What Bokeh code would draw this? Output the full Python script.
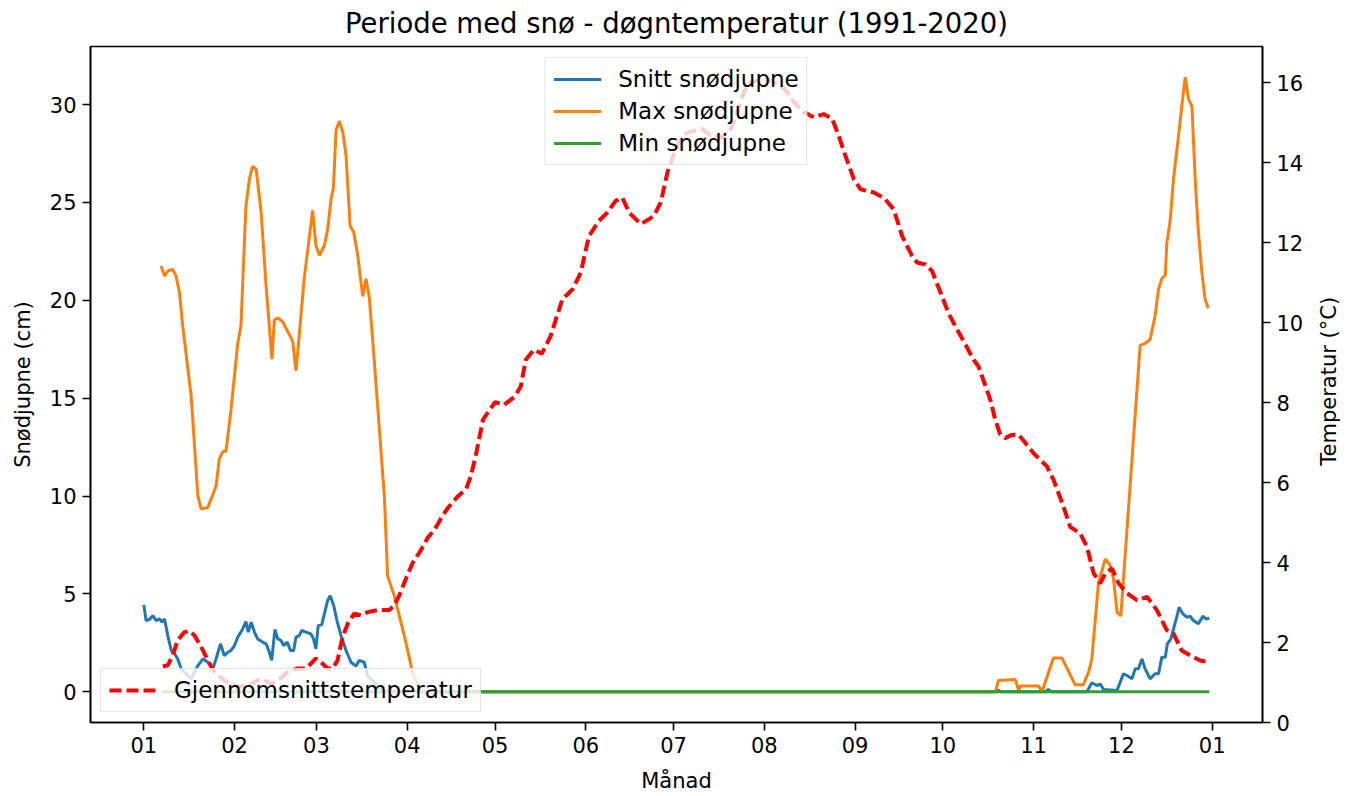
import math
from bokeh.plotting import figure
from bokeh.models import Range1d, LinearAxis, FixedTicker, Legend, LegendItem, Label
from bokeh.layouts import column, row
from bokeh.embed import file_html
from bokeh.resources import INLINE

# ---------------- data (day of year, 0 = 1 January) ----------------
month_start_days = [0, 31, 59, 90, 120, 151, 181, 212, 243, 273, 304, 334, 365]
month_labels = ["01", "02", "03", "04", "05", "06", "07", "08", "09", "10", "11", "12", "01"]

snow_ticks = [0, 5, 10, 15, 20, 25, 30]
temp_ticks = [0, 2, 4, 6, 8, 10, 12, 14, 16]

# Snitt snødjupne (cm)
mean_days = [0.0, 0.8, 1.9, 3.1, 4.2, 5.4, 6.2, 7.1, 8.2, 9.4, 10.5, 11.6, 12.8, 13.9, 16.2,
             18.5, 20.2, 21.9, 23.6, 24.7, 26.2, 27.5, 28.7, 29.8, 31.0, 32.1, 33.8, 34.9,
             35.7, 36.7, 37.8, 38.9, 40.6, 41.8, 42.9, 43.7, 44.8, 45.8, 46.9, 47.8, 49.0,
             50.1, 51.2, 52.0, 53.1, 54.0, 55.4, 57.1, 58.0, 58.8, 59.6, 60.8, 61.7, 62.8,
             63.7, 64.9, 66.0, 67.4, 69.1, 70.8, 72.5, 73.6, 75.3, 76.5, 78.7, 81.0, 82.0,
             291.0, 292.0, 293.0, 308.0, 309.0, 310.0, 322.2, 323.9, 325.6, 326.8, 327.9,
             332.5, 334.7, 335.9, 337.6, 338.7, 339.8, 341.0, 342.1, 343.8, 345.5, 346.7,
             347.8, 349.0, 349.7, 350.9, 351.8, 352.9, 353.7, 355.0, 356.3, 357.5, 358.6,
             360.3, 361.8, 362.9, 364.0]
mean_snow = [4.44, 3.64, 3.69, 3.89, 3.64, 3.72, 3.56, 3.72, 2.87, 2.11, 1.94, 1.68, 1.17, 1.00, 0.66,
             1.34, 1.68, 1.51, 1.17, 1.68, 2.45, 1.85, 2.02, 2.11, 2.36, 2.79, 3.21, 3.59,
             3.05, 3.56, 3.05, 2.70, 2.54, 2.45, 2.02, 1.60, 3.18, 2.70, 2.62, 2.36, 2.54,
             2.11, 2.11, 2.79, 2.87, 3.13, 3.05, 2.96, 2.70, 2.19, 3.38, 3.42, 3.98, 4.66,
             4.91, 4.40, 3.64, 2.87, 2.11, 1.51, 1.31, 1.60, 1.51, 0.80, 0.49, 0.15, 0.0,
             0.0, 0.07, 0.0, 0.0, 0.12, 0.0, 0.0, 0.46, 0.32, 0.39, 0.12,
             0.07, 0.92, 0.83, 0.66, 1.17, 1.17, 1.68, 1.17, 0.66, 0.92, 0.92,
             1.77, 1.77, 2.45, 2.70, 3.21, 3.81, 4.32, 3.98, 3.81, 3.86, 3.64,
             3.47, 3.86, 3.72, 3.76]

# Max snødjupne (cm)
max_days = [5.9, 7.1, 8.2, 9.9, 11.0, 12.2, 13.3, 16.2, 18.5, 19.6, 21.9, 24.7, 25.8, 27.0, 28.1,
            29.8, 32.1, 33.2, 34.9, 36.1, 37.2, 38.4, 40.1, 41.8, 43.8, 44.6, 45.8, 47.5, 50.9,
            52.0, 53.1, 54.8, 57.7, 58.8, 60.0, 61.7, 62.8, 64.0, 64.8, 65.7, 66.8, 68.0, 69.1,
            70.5, 71.7, 73.1, 74.8, 75.9, 77.0, 78.2, 79.9, 82.2, 83.3, 85.6, 89.0, 91.8, 94.1,
            95.0, 291.0, 292.0, 297.7, 298.9, 299.5, 305.7, 306.9, 309.1, 310.8, 313.7, 318.2,
            321.0, 322.8, 323.9, 325.0, 326.2, 328.5, 330.2, 331.3, 332.5, 333.8, 340.4, 342.1,
            343.8, 345.5, 346.7, 347.8, 349.0, 349.5, 350.6, 351.8, 353.5, 355.0, 355.8, 356.9,
            358.1, 359.2, 360.3, 361.5, 362.6, 363.7]
max_snow = [21.75, 21.24, 21.5, 21.58, 21.24, 20.4, 18.7, 15.1, 10.0, 9.34, 9.42, 10.5, 11.9, 12.26, 12.3,
            14.4, 17.8, 18.7, 24.8, 26.2, 26.85, 26.7, 24.5, 20.7, 17.0, 19.0, 19.1, 18.9, 17.9,
            16.4, 18.2, 21.1, 24.6, 22.8, 22.3, 22.8, 23.6, 25.2, 25.75, 28.7, 29.15, 28.6, 27.4,
            23.8, 23.5, 22.3, 20.2, 21.1, 20.2, 18.0, 14.6, 10.0, 5.93, 4.9, 2.87, 1.0, 0.15,
            0.0, 0.0, 0.58, 0.63, 0.07, 0.29, 0.29, 0.0, 1.0, 1.72, 1.72, 0.36,
            0.36, 1.0, 1.68, 3.56, 5.6, 6.79, 6.44, 5.77, 4.07, 3.88, 17.7, 17.8,
            18.0, 19.2, 20.6, 21.1, 21.3, 22.9, 24.0, 26.2, 28.4, 30.4, 31.4, 30.3,
            29.9, 26.2, 23.5, 21.4, 20.05, 19.6]

# Min snødjupne (cm)
min_days = [6.0, 364.0]
min_snow = [0.0, 0.0]

# Gjennomsnittstemperatur (°C)
temp_days = [6.5, 8.2, 9.9, 11.6, 13.9, 15.6, 17.3, 19.6, 21.9, 24.1, 27.5, 32.1, 36.7, 40.1, 43.5,
             45.8, 49.2, 52.6, 55.4, 57.1, 58.8, 60.5, 62.8, 64.5, 66.2, 67.9, 69.7, 71.9, 74.2,
             76.5, 79.9, 83.9, 85.6, 87.3, 89.6, 91.8, 94.7, 97.0, 99.2, 102.4, 104.3, 107.0,
             110.2, 111.7, 113.5, 115.9, 120.0, 123.1, 126.8, 128.8, 130.5, 133.3, 136.0, 139.0,
             143.0, 146.5, 149.3, 152.1, 155.5, 158.4, 161.2, 163.5, 165.8, 169.8, 174.3, 176.6,
             178.9, 181.7, 184.5, 187.9, 190.8, 193.7, 197.6, 200.5, 202.8, 205.0, 207.3, 210.7,
             214.1, 217.6, 219.8, 222.1, 225.5, 228.9, 232.3, 235.2, 237.4, 239.7, 242.6, 244.9,
             249.4, 252.8, 256.2, 259.1, 262.5, 264.2, 267.0, 269.3, 272.2, 275.0, 277.9, 280.7,
             283.5, 285.2, 286.9, 289.2, 290.9, 292.6, 294.3, 296.6, 298.8, 301.5, 304.0, 308.6,
             310.8, 314.2, 316.5, 319.9, 322.2, 324.5, 326.8, 328.5, 330.8, 333.0, 335.9, 339.3,
             342.8, 346.1, 349.5, 351.8, 354.6, 357.5, 360.9, 363.7]
temp_vals = [1.40, 1.43, 1.68, 2.06, 2.26, 2.29, 2.18, 1.89, 1.55, 1.26, 1.05, 0.88, 0.97, 1.10, 0.97,
             1.05, 1.26, 1.35, 1.35, 1.47, 1.60, 1.51, 1.35, 1.35, 1.55, 2.14, 2.47, 2.72, 2.68,
             2.76, 2.81, 2.81, 2.93, 3.18, 3.60, 3.98, 4.31, 4.62, 4.80, 5.21, 5.40, 5.63,
             5.85, 6.15, 6.70, 7.57, 8.01, 7.94, 8.15, 8.40, 9.07, 9.32, 9.22, 9.66,
             10.58, 10.83, 11.25, 12.16, 12.54, 12.75, 13.04, 13.12, 12.75, 12.46, 12.66, 13.00,
             13.75, 14.34, 14.71, 14.79, 14.84, 14.67, 14.63, 14.84, 15.26, 15.76, 16.01, 16.05,
             16.05, 15.92, 15.76, 15.51, 15.26, 15.13, 15.21, 15.09, 14.67, 14.17, 13.58, 13.33,
             13.25, 13.12, 12.83, 12.16, 11.66, 11.50, 11.45, 11.29, 10.75, 10.22, 9.82, 9.45,
             9.07, 8.90, 8.55, 8.07, 7.57, 7.20, 7.11, 7.19, 7.20, 6.96, 6.73, 6.40,
             6.07, 5.40, 4.89, 4.73, 4.40, 3.73, 3.48, 3.73, 3.85, 3.48, 3.23, 3.06,
             3.14, 2.81, 2.31, 2.22, 1.80, 1.68, 1.55, 1.51]

title_text = "Periode med snø - døgntemperatur (1991-2020)"
x_label = "Månad"
left_label = "Snødjupne (cm)"
right_label = "Temperatur (°C)"

# ---------------- layout constants (pixels) ----------------
FONT = "DejaVu Sans"
HEADER_H = 42
LEFT_B, FRAME_W, RIGHT_B, SIDE_W = 90, 1172, 48, 36
TOP_B, FRAME_H, BOTTOM_B = 4, 676, 72
MAIN_W = LEFT_B + FRAME_W + RIGHT_B
MAIN_H = TOP_B + FRAME_H + BOTTOM_B
TOTAL_W = MAIN_W + SIDE_W
ROT_LABEL_SHIFT = 31  # compensates the anchor offset of rotated text


def blank(width, height):
    f = figure(width=width, height=height, x_range=Range1d(0, width), y_range=Range1d(height, 0),
               x_axis_location=None, y_axis_location=None, min_border=0,
               output_backend="svg", toolbar_location=None)
    f.outline_line_color = None
    f.xgrid.visible = False
    f.ygrid.visible = False
    f.background_fill_color = "white"
    f.border_fill_color = "white"
    return f


# title strip
header = blank(TOTAL_W, HEADER_H)
header.add_layout(Label(x=LEFT_B + FRAME_W / 2, y=HEADER_H - 20, text=title_text,
                        text_align="center", text_baseline="middle",
                        text_font=FONT, text_font_size="27.5px", text_color="black"))

# main plot
p = figure(frame_width=FRAME_W, frame_height=FRAME_H,
           min_border_left=LEFT_B, min_border_right=RIGHT_B,
           min_border_top=TOP_B, min_border_bottom=BOTTOM_B,
           x_range=Range1d(-18.2, 382.2), y_range=Range1d(-1.57, 32.97),
           output_backend="svg", toolbar_location=None)
p.extra_y_ranges = {"temp": Range1d(0.0, 16.9)}

p.xgrid.visible = False
p.ygrid.visible = False
p.outline_line_color = "black"
p.outline_line_width = 1.6
p.background_fill_color = "white"
p.border_fill_color = "white"

p.xaxis.ticker = FixedTicker(ticks=month_start_days)
p.xaxis.major_label_overrides = {d: lab for d, lab in zip(month_start_days, month_labels)}
p.xaxis.axis_label = x_label
p.yaxis.ticker = FixedTicker(ticks=snow_ticks)
p.yaxis.axis_label = left_label

temp_axis = LinearAxis(y_range_name="temp", ticker=FixedTicker(ticks=temp_ticks))
p.add_layout(temp_axis, "right")

for ax in [p.xaxis[0], p.yaxis[0], temp_axis]:
    ax.axis_line_color = "black"
    ax.axis_line_width = 1.6
    ax.major_tick_line_color = "black"
    ax.major_tick_line_width = 1.6
    ax.major_tick_out = 8
    ax.major_tick_in = 0
    ax.minor_tick_line_color = None
    ax.major_label_text_font = FONT
    ax.major_label_text_font_size = "21px"
    ax.major_label_text_color = "black"
    ax.major_label_standoff = 6
    ax.axis_label_text_font = FONT
    ax.axis_label_text_font_size = "21px"
    ax.axis_label_text_font_style = "normal"
    ax.axis_label_text_color = "black"

p.xaxis[0].axis_label_standoff = 13
p.yaxis[0].axis_label_standoff = 12

r_mean = p.line(mean_days, mean_snow, line_color="#1f77b4", line_width=3)
r_max = p.line(max_days, max_snow, line_color="#ff7f0e", line_width=3)
r_min = p.line(min_days, min_snow, line_color="#2ca02c", line_width=3)
r_temp = p.line(temp_days, temp_vals, line_color="red", line_width=4, line_dash="12 5",
                y_range_name="temp", level="overlay")

leg1 = Legend(items=[LegendItem(label="Snitt snødjupne", renderers=[r_mean]),
                     LegendItem(label="Max snødjupne", renderers=[r_max]),
                     LegendItem(label="Min snødjupne", renderers=[r_min])],
              location="top_center", margin=11)
leg2 = Legend(items=[LegendItem(label="Gjennomsnittstemperatur", renderers=[r_temp])],
              location="bottom_left", margin=10, level="overlay")

for lg in (leg1, leg2):
    lg.label_text_font = FONT
    lg.label_text_font_size = "23px"
    lg.label_text_color = "black"
    lg.glyph_width = 48
    lg.glyph_height = 24
    lg.label_height = 24
    lg.label_standoff = 17
    lg.padding = 8
    lg.spacing = 6
    lg.background_fill_color = "white"
    lg.background_fill_alpha = 0.8
    lg.border_line_color = "#cccccc"
    lg.border_line_width = 1.5
    p.add_layout(lg)

# right-hand axis title strip, text reading bottom-to-top
side = blank(SIDE_W, MAIN_H)
side.add_layout(Label(x=SIDE_W / 2, y=TOP_B + FRAME_H / 2 + ROT_LABEL_SHIFT, text=right_label,
                      angle=math.pi / 2, text_align="center", text_baseline="middle",
                      text_font=FONT, text_font_size="21px", text_color="black"))

layout = column(header, row(p, side, spacing=0), spacing=0)
open("out.html", "w").write(file_html(layout, INLINE))
